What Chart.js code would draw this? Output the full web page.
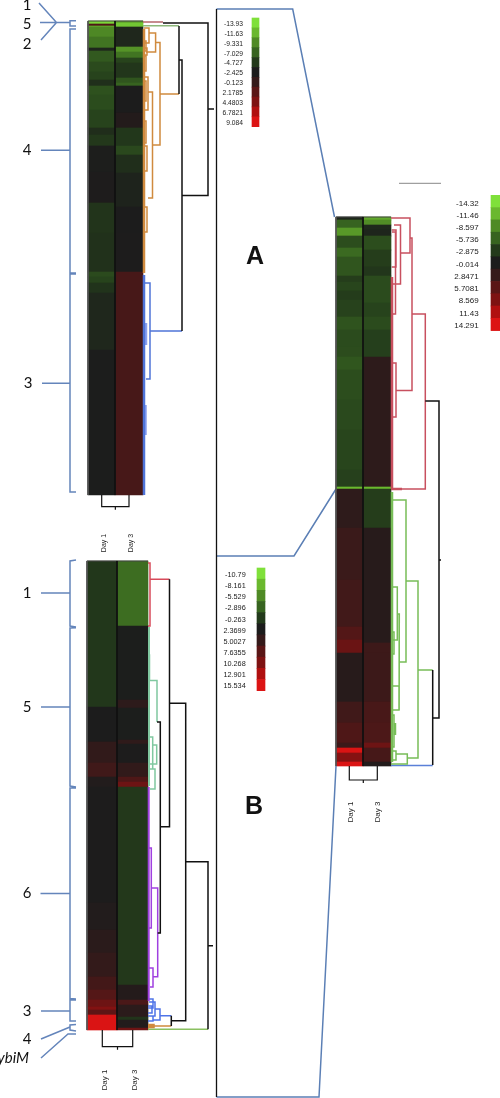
<!DOCTYPE html>
<html>
<head>
<meta charset="utf-8">
<title>Heat maps</title>
<script src="https://cdn.jsdelivr.net/npm/chart.js@4"></script>
<style>
  html, body { margin: 0; padding: 0; background: #fff; }
  #fig { display: block; filter: blur(0.4px); }
</style>
</head>
<body>
<canvas id="fig" width="500" height="1098"></canvas>
<script>
const days = ['Day 1', 'Day 3'];
const palette = ['#7fe03a', '#6ab82e', '#4f8a25', '#376420', '#233a1b', '#1c1c1c', '#351a1a', '#5a1616', '#7e1212', '#b01010', '#dc1414'];

// legend tick labels, as printed
const ticksLeftA = ['-13.93', '-11.63', '-9.331', '-7.029', '-4.727', '-2.425', '-0.123', '2.1785', '4.4803', '6.7821', '9.084'];
const ticksRightA = ['-14.32', '-11.46', '-8.597', '-5.736', '-2.875', '-0.014', '2.8471', '5.7081', '8.569', '11.43', '14.291'];
const ticksB = ['-10.79', '-8.161', '-5.529', '-2.896', '-0.263', '2.3699', '5.0027', '7.6355', '10.268', '12.901', '15.534'];

// heat map bands: number of rows and expression value of each band
const leftADay1Rows = [3, 2, 1, 10, 11, 3, 11, 10, 8, 6, 9, 15, 18, 7, 11, 26, 31, 30, 39, 5, 6, 10, 57, 145];
const leftADay1Vals = [-13.5, 1.5, -11, -9.2, -8, -3.2, -6.4, -5.6, -5.2, -3.9, -6, -5.7, -5.2, -3.7, -4.6, -2.6, -2.2, -4.3, -4, -5.6, -5.2, -4.2, -3.3, -2.5];
const leftADay3Rows = [2, 4, 20, 5, 6, 5, 15, 5, 3, 27, 15, 18, 9, 18, 34, 26, 39, 223];
const leftADay3Vals = [-10.5, -12.5, -3.3, -9.8, -8, -5.2, -4.4, -6.2, -7, -2.4, -1.8, -4.5, -5.5, -3.8, -3, -2.4, -2.3, 1];

const rightADay1Rows = [3, 8, 8, 12, 9, 19, 6, 9, 9, 17, 13, 17, 10, 13, 30, 30, 40, 17, 2, 39, 52, 47, 13, 13, 49, 21, 20, 5, 5, 9, 4];
const rightADay1Vals = [-1, -5.7, -9.5, -4.2, -6.2, -4.7, -3.1, -3.6, -3, -3.4, -4.6, -4, -4.1, -4.8, -4.2, -3.9, -3.6, -3.3, -11.5, 2, 3.2, 3.8, 5.2, 7, 1.3, 3.7, 4.8, 3.3, 14.2, 9, 14.2];
const rightADay3Rows = [3, 5, 5, 6, 14, 17, 9, 27, 14, 13, 27, 130, 2, 39, 115, 10, 49, 21, 20, 5, 14, 4];
const rightADay3Vals = [-10.5, -8.8, -1.3, -0.9, -4.2, -3.1, -2.5, -4, -3.5, -4, -3.2, 1.9, -11.5, -3.1, 1.2, 3.5, 3.4, 4.3, 4.6, 7.2, 4.2, 0.8];

const bDay1Rows = [146, 35, 21, 14, 10, 116, 27, 23, 24, 13, 10, 7, 3, 5, 15];
const bDay1Vals = [0, 2.4, 4.6, 5.8, 3, 2.5, 3, 3.8, 4.8, 6, 7.2, 9, 10.5, 8, 15.4];
const bDay3Rows = [65, 74, 8, 32, 4, 19, 14, 5, 5, 198, 15, 5, 12, 3, 8, 2];
const bDay3Vals = [-3.5, 2.2, 4.2, 2.2, 4.4, 2.5, 4.6, 6.8, 9, -0.1, 3.2, 6.5, 4, 0.3, 3, 9];

// dendrogram merges: [row a, height a, merge height, row b, height b]
const treeLeftABlack = [[2, 20, 65, 174.5, 39], [39, 36, 39, 310, 39], [5, 36, 36, 73, 36], [88, 65, 71, 88, 71]];
const treeLeftAPink = [[1, 0, 20, 1, 20]];
const treeLeftAGreen = [[4.7, 0, 36, 4.7, 36]];
const treeLeftAOrange = [[73, 17, 36, 73, 36], [21.5, 12.6, 17, 124, 10], [12, 6, 12.6, 31, 3], [7, 1, 6, 22, 1], [27, 0, 4, 34, 1],
  [71, 5, 9.5, 177, 5], [56, 2, 5, 89, 1], [186, 1, 4, 211, 1], [100, 0, 3, 122, 0], [125, 0, 4, 150, 0], [60, 0, 3, 80, 0], [35, 1, 3, 50, 0], [20, 0, 3, 30, 0]];
const treeLeftAOrangeDense = [[8, 1, 1, 252, 1]];
const treeLeftABlue = [[310, 7, 39, 310, 39], [262, 1, 7, 358, 3]];
const treeLeftABlueDense = [[254, 1, 1, 474, 1]];
const treeLeftAPale = [[302, 3, 3, 324, 3], [384, 2.5, 2.5, 414, 2.5]];

const treeRightABlack = [[184, 34.3, 48, 501, 41.7], [343, 48, 50, 343, 50], [453, 41.7, 41.7, 548, 41.7]];
const treeRightARed = [[97, 21, 34.3, 272, 0], [21, 19, 21, 173.6, 5], [1, 0, 19, 36, 10], [8, 3, 9.5, 67, 1], [13, 1, 5, 50, 1], [15, 1, 4.5, 97, 0], [146, 0, 5, 200, 1]];
const treeRightARedDense = [[60, 1, 1, 272, 1], [272, 0, 11, 272, 11]];
const treeRightAGreen = [[453, 27, 41.7, 453, 41.7], [364, 15, 27, 541, 16], [283, 2, 15, 445, 8.3], [370, 2, 6.3, 423, 2], [397, 6.3, 8.3, 493, 8], [469, 1, 8, 493, 2],
  [415, 0, 3, 437, 0], [498, 0, 3, 530, 0], [534, 0, 5, 543, 0], [537, 5, 16.3, 547, 0]];
const treeRightAGreenDense = [[275, 1, 1, 545, 1], [506, 4, 4, 518, 4]];
const treeRightABlue = [[548.5, 0, 41.7, 548.5, 41.7]];

const treeBBlack = [[18.3, 21.5, 21.5, 265.7, 12.3], [142.3, 21.5, 37.7, 459.7, 23.3], [300.7, 37.7, 60, 468.3, 60], [384.7, 60, 65, 384.7, 65], [161, 9, 12.3, 372, 9.7], [454.7, 23.3, 23.3, 465, 23.3]];
const treeBRed = [[2, 0, 2, 65, 0], [18.3, 2, 21.5, 18.3, 21.5]];
const treeBMint = [[119.5, 0, 9, 161, 9], [176, 0, 4.7, 208, 0], [184, 5, 8.7, 203, 2], [208, 0, 7, 228, 2], [94, 0, 1.5, 118, 0]];
const treeBMintDense = [[66, 1, 1, 225, 1]];
const treeBPurple = [[327, 3.3, 9.7, 415.7, 5], [287, 0, 3.3, 367, 0], [407, 1, 5, 426, 2]];
const treeBPurpleDense = [[226, 0.7, 0.7, 440, 0.7]];
const treeBBlue = [[454.7, 12, 23.3, 454.7, 23.3], [448, 7, 12, 459, 5], [441, 1, 7, 455, 1], [438, 0, 5, 447, 0], [445, 0, 4, 452, 0], [455, 0, 5, 460, 0]];
const treeBOrange = [[465, 0, 23.3, 465, 23.3], [463.5, 0, 6, 466.5, 0]];
const treeBGreen = [[468.3, 0, 60, 468.3, 60]];

const panels = [
  { left: 88, mid: 115, right: 143, top: 21, ticks: ticksLeftA,
    bands: [[leftADay1Rows, leftADay1Vals], [leftADay3Rows, leftADay3Vals]],
    legend: { x0: 252, x1: 259, top: 18, step: 9.88, labelRight: 243, labelTop: 24, labelStep: 9.9, font: 6.7 },
    bracket: { y: 506.7, x0: 101.7, x1: 129, tick: 3, labelY: 543, labelX: [104, 131], font: 7 },
    trees: [[treeLeftABlack, '#111', 1.5], [treeLeftAPink, '#b5646a', 1.5], [treeLeftAGreen, '#8db87a', 1.5], [treeLeftAOrange, '#d08a3e', 1.5], [treeLeftAOrangeDense, '#d08a3e', 2.5],
      [treeLeftABlue, '#4f74d8', 1.5], [treeLeftABlueDense, '#4f74d8', 2.5], [treeLeftAPale, '#8aa0f0', 2.5]] },
  { left: 336, mid: 363, right: 391, top: 217, ticks: ticksRightA,
    bands: [[rightADay1Rows, rightADay1Vals], [rightADay3Rows, rightADay3Vals]],
    legend: { x0: 491, x1: 501, top: 195.3, step: 12.3, labelRight: 478.7, labelTop: 203.3, labelStep: 12.24, font: 8 },
    bracket: { y: 780, x0: 349.3, x1: 377.3, tick: 3, labelY: 812, labelX: [350.5, 377.5], font: 8 },
    trees: [[treeRightABlack, '#111', 1.5], [treeRightARed, '#c8505f', 1.5], [treeRightARedDense, '#c8505f', 2.5], [treeRightAGreen, '#78bd58', 1.5], [treeRightAGreenDense, '#78bd58', 2.5], [treeRightABlue, '#5a80d8', 1.5]] },
  { left: 87, mid: 117, right: 148, top: 561, ticks: ticksB,
    bands: [[bDay1Rows, bDay1Vals], [bDay3Rows, bDay3Vals]],
    legend: { x0: 257, x1: 265, top: 568, step: 11.15, labelRight: 245.7, labelTop: 575, labelStep: 11.13, font: 7.3 },
    bracket: { y: 1046.7, x0: 102.3, x1: 132.7, tick: 3, labelY: 1080, labelX: [104.5, 134.5], font: 8 },
    trees: [[treeBBlack, '#111', 1.5], [treeBRed, '#d84a5a', 1.5], [treeBMint, '#80c8a0', 1.5], [treeBMintDense, '#80c8a0', 2], [treeBPurple, '#a040e0', 1.5], [treeBPurpleDense, '#a040e0', 2],
      [treeBBlue, '#4f74e8', 1.5], [treeBOrange, '#d08a3e', 1.5], [treeBGreen, '#8ac060', 1.5]] }
];

// trapezoid frames and group brackets, in figure units
const frameBlack = [[[216.5, 9], [216.5, 1097]]];
const frameBlue = [[[216.5, 9], [292.7, 9], [334.5, 217]], [[216.5, 556], [294, 556], [336, 489]], [[216.5, 1097], [319, 1097], [336, 766]]];
const frameGrey = [[[399, 183.3], [441, 183.3]]];
const groupBrackets = [
  [[76, 20.7], [70, 20.7], [70, 26], [76, 26]], [[76, 29], [70, 29], [70, 273], [76, 273]], [[76, 274], [70, 274], [70, 492], [76, 492]],
  [[39, 3], [56.5, 22.5], [41, 40]], [[40, 22.5], [70, 22.5]], [[41, 150.3], [70, 150.3]], [[42, 383.3], [70, 383.3]],
  [[76, 560], [70, 561], [70, 626], [76, 627]], [[76, 627.7], [70, 628], [70, 786], [76, 787]], [[76, 788], [70, 788], [70, 998.5], [76, 999]],
  [[76, 1000], [70, 1000], [70, 1021], [76, 1021]], [[76, 1024.5], [70, 1025], [70, 1030], [76, 1031]],
  [[41, 593], [70, 593]], [[41, 707], [70, 707]], [[40.5, 893.5], [70, 893.5]], [[41, 1011], [70, 1011]], [[41, 1039], [70, 1027]], [[41, 1058], [68, 1034], [76, 1034]]
];
const groupLabels = [['1', 27, 5], ['5', 27, 24], ['2', 27, 44], ['4', 27, 150], ['3', 28, 383], ['1', 27, 593], ['5', 27, 707], ['6', 27, 893.5], ['3', 27, 1011], ['4', 27, 1039]];

function colorFor(v, ticks) {
  const vals = ticks.map(Number);
  let i = 0;
  while (i < vals.length - 2 && v > vals[i + 1]) i++;
  const t = Math.min(1, Math.max(0, (v - vals[i]) / (vals[i + 1] - vals[i])));
  const a = palette[i], b = palette[i + 1];
  const ch = (s, k) => parseInt(s.substr(1 + k * 2, 2), 16);
  const mix = k => Math.round(ch(a, k) + (ch(b, k) - ch(a, k)) * t);
  return 'rgb(' + mix(0) + ',' + mix(1) + ',' + mix(2) + ')';
}

function barSet(points, colors, thickness) {
  return { type: 'bar', data: points, backgroundColor: colors, barThickness: thickness, borderWidth: 0, grouped: false, stack: 'heat', order: 2 };
}

function lineSet(paths, color, width) {
  const data = [];
  paths.forEach(p => {
    p.forEach(q => data.push({ x: q[0], y: q[1] }));
    data.push({ x: null, y: null });
  });
  return { type: 'scatter', data, showLine: true, borderColor: color, borderWidth: width, pointRadius: 0, tension: 0, spanGaps: false, order: 1 };
}

const datasets = [];
panels.forEach(p => {
  // heat columns
  p.bands.forEach((b, d) => {
    const x0 = d === 0 ? p.left : p.mid;
    const x1 = d === 0 ? p.mid : p.right;
    let row = 0;
    const pts = [];
    b[0].forEach(n => {
      pts.push({ x: (x0 + x1) / 2, y: [p.top + row, p.top + row + n] });
      row += n;
    });
    datasets.push(barSet(pts, b[1].map(v => colorFor(v, p.ticks)), x1 - x0));
    if (d === 0) p.rows = row;
  });
  const bottom = p.top + p.rows;
  datasets.push(lineSet([[[p.left, p.top], [p.left, bottom]]], '#555', 1));
  datasets.push(lineSet([[[p.mid, p.top], [p.mid, bottom]]], '#111', 1));
  datasets.push(lineSet([[[p.left, p.top], [p.right, p.top]]], '#444', 1));

  // colour key
  const l = p.legend;
  const keyPts = p.ticks.map((t, i) => ({ x: (l.x0 + l.x1) / 2, y: [l.top + i * l.step, l.top + (i + 1) * l.step] }));
  datasets.push(barSet(keyPts, p.ticks.map(t => colorFor(Number(t), p.ticks)), l.x1 - l.x0));

  // dendrograms
  p.trees.forEach(t => {
    const paths = t[0].map(m => [
      [p.right + m[1], p.top + m[0]], [p.right + m[2], p.top + m[0]],
      [p.right + m[2], p.top + m[3]], [p.right + m[4], p.top + m[3]]
    ]);
    datasets.push(lineSet(paths, t[1], t[2]));
  });

  // column bracket
  const c = p.bracket;
  datasets.push(lineSet([
    [[c.x0, bottom], [c.x0, c.y], [c.x1, c.y], [c.x1, bottom]],
    [[(c.x0 + c.x1) / 2, c.y], [(c.x0 + c.x1) / 2, c.y + c.tick]]
  ], '#111', 1.2));
});
datasets.push(lineSet(frameBlack, '#111', 1.3));
datasets.push(lineSet(frameBlue, '#5b7fb5', 1.5));
datasets.push(lineSet(frameGrey, '#888', 1));
datasets.push(lineSet(groupBrackets, '#6485bb', 1.5));

const figureText = {
  id: 'figureText',
  afterDraw(chart) {
    const ctx = chart.ctx;
    const sx = chart.scales.x, sy = chart.scales.y;
    ctx.save();
    ctx.fillStyle = '#222';
    ctx.textBaseline = 'middle';
    panels.forEach(p => {
      const l = p.legend;
      ctx.font = l.font + 'px "Liberation Sans"';
      ctx.textAlign = 'right';
      p.ticks.forEach((t, i) => ctx.fillText(t, sx.getPixelForValue(l.labelRight), sy.getPixelForValue(l.labelTop + i * l.labelStep)));
      ctx.font = p.bracket.font + 'px "Liberation Sans"';
      ctx.textAlign = 'center';
      days.forEach((d, i) => {
        ctx.save();
        ctx.translate(sx.getPixelForValue(p.bracket.labelX[i]), sy.getPixelForValue(p.bracket.labelY));
        ctx.rotate(-Math.PI / 2);
        ctx.fillText(d, 0, 0);
        ctx.restore();
      });
    });
    ctx.fillStyle = '#111';
    ctx.textAlign = 'center';
    ctx.font = '15px Lato';
    groupLabels.forEach(g => ctx.fillText(g[0], sx.getPixelForValue(g[1]), sy.getPixelForValue(g[2])));
    ctx.font = 'italic 15px Lato';
    ctx.textAlign = 'right';
    ctx.fillText('ybiM', sx.getPixelForValue(29), sy.getPixelForValue(1058));
    ctx.font = 'bold 25px "Liberation Sans"';
    ctx.textAlign = 'center';
    ctx.fillText('A', sx.getPixelForValue(255), sy.getPixelForValue(257));
    ctx.fillText('B', sx.getPixelForValue(254), sy.getPixelForValue(807));
    ctx.restore();
  }
};

new Chart(document.getElementById('fig'), {
  type: 'scatter',
  data: { datasets },
  options: {
    responsive: false,
    animation: false,
    layout: { padding: 0 },
    plugins: { legend: { display: false }, tooltip: { enabled: false } },
    scales: {
      x: { type: 'linear', min: 0, max: 500, offset: false, display: false },
      y: { type: 'linear', min: 0, max: 1098, reverse: true, offset: false, display: false }
    }
  },
  plugins: [figureText]
});
</script>
</body>
</html>
